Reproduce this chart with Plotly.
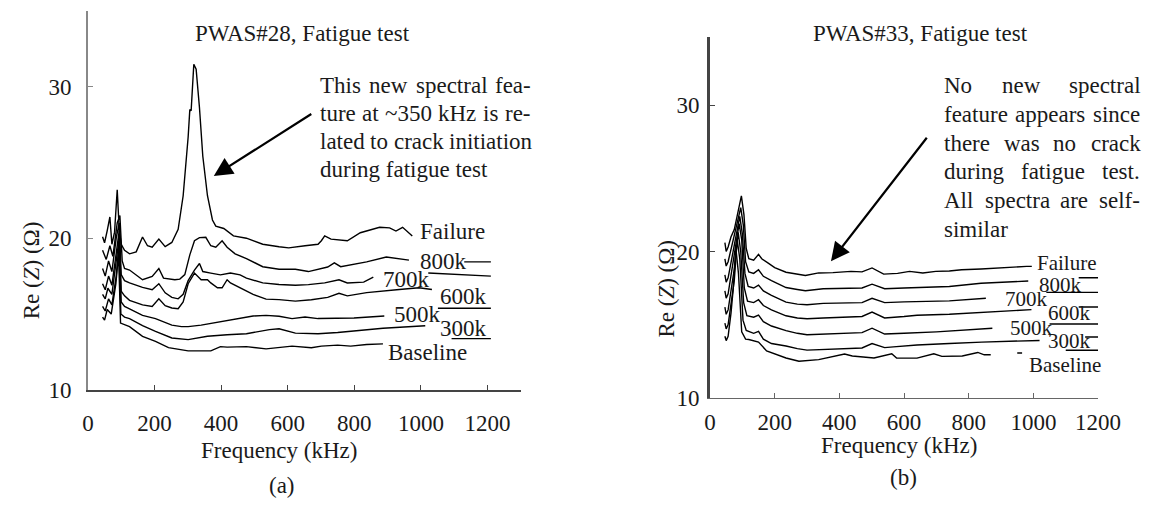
import plotly.graph_objects as go

W, H = 1164, 512
FONT = "Liberation Serif, Times New Roman, serif"
FS = 23
INK = "#1a1a1a"


def px(x):
    return x / W


def py(y):
    return 1 - y / H


# ---------------- data: panel (a) PWAS#28 ----------------
A_FAIL_F = [44, 50, 58, 66, 72, 80, 88, 94, 100, 110, 125, 145, 164, 179, 193, 213, 232, 252, 271, 286,
            301, 306, 310, 318, 325, 335, 345, 359, 374, 384, 408, 437, 476, 525, 574, 603, 652, 691,
            701, 711, 730, 779, 818, 837, 876, 906, 925, 945, 974]
A_FAIL_V = [20.1, 19.7, 20.5, 21.4, 19.6, 20.4, 23.2, 20.6, 19.6, 19.2, 18.97, 19.1, 20.08, 19.5, 19.4,
            19.94, 19.44, 19.72, 20.58, 22.8, 26.67, 28.48, 28.4, 31.47, 31.15, 28.6, 25.4, 22.8, 21.2,
            20.8, 20.64, 20.15, 20.0, 19.6, 19.44, 19.36, 19.5, 19.6, 19.83, 20.15, 19.94, 19.83, 20.36,
            20.47, 20.72, 20.68, 20.47, 20.72, 20.15]

A_800_F = [44, 55, 66, 75, 88, 96, 103, 110, 125, 164, 193, 213, 227, 261, 276, 291, 306, 320, 335, 354,
           369, 384, 403, 418, 442, 476, 525, 574, 623, 662, 720, 740, 759, 837, 896, 964, None, 1130, 1210]
A_800_V = [19.2, 18.6, 19.5, 18.8, 21.0, 21.5, 18.5, 18.0, 17.9, 17.26, 17.48, 18.0, 17.37, 17.26, 17.3,
           17.6, 18.9, 19.83, 20.04, 20.06, 19.5, 19.4, 19.83, 19.4, 18.97, 18.65, 18.12, 17.95, 17.95,
           17.8, 18.1, 18.37, 18.12, 18.44, 18.76, 18.55, None, 18.44, 18.44]

A_700_F = [44, 52, 62, 72, 85, 94, 100, 110, 125, 164, 193, 213, 232, 252, 271, 286, 301, 320, 335, 345,
           369, 398, 428, 457, 476, 525, 574, 623, 662, 711, 754, 779, 828, 857, None, 1022, 1110, 1210]
A_700_V = [18.0, 17.5, 18.5, 17.8, 20.0, 21.0, 17.6, 17.2, 17.05, 16.76, 16.6, 17.0, 16.4, 16.1, 16.0,
           16.3, 17.2, 17.9, 18.33, 17.8, 17.7, 17.58, 17.7, 17.58, 17.37, 17.05, 16.95, 16.9, 16.94,
           17.05, 17.26, 17.05, 17.1, 17.44, None, 17.7, 17.6, 17.5]

A_600_F = [44, 52, 62, 72, 85, 94, 100, 110, 125, 164, 193, 213, 232, 252, 271, 286, 301, 320, 340, 359,
           369, 389, 403, 418, 428, 457, 496, 535, 574, 623, 671, 720, 754, 779, 837, 935, 994, 1033]
A_600_V = [17.0, 16.6, 17.5, 16.9, 19.0, 20.5, 16.5, 16.2, 15.9, 15.6, 15.5, 16.0, 15.55, 15.4, 15.35,
           15.8, 17.0, 17.7, 17.26, 17.26, 17.05, 16.73, 16.73, 17.26, 17.05, 16.73, 16.3, 15.98, 15.95,
           15.85, 15.94, 16.1, 16.37, 16.2, 16.41, 16.62, 16.73, 16.62]

A_500_F = [44, 52, 60, 72, 85, 94, 100, 110, 125, 164, 203, 252, 281, 301, 340, 398, 457, 496, 535, 574,
           613, 652, 691, 750, 799, 890, None, 1051, 1210]
A_500_V = [16.3, 16.0, 16.7, 16.3, 18.5, 20.0, 15.8, 15.5, 15.34, 14.91, 14.7, 14.27, 14.17, 14.17, 14.27,
           14.49, 14.7, 14.87, 14.91, 14.85, 14.7, 14.8, 14.7, 14.72, 14.74, 14.87, None, 15.38, 15.38]

A_300_F = [44, 52, 62, 72, 85, 93, 99, 110, 125, 164, 203, 252, 301, 359, 418, 476, 545, 574, 623, 691,
           750, 799, 886, 1013, None, 1092, 1210]
A_300_V = [15.5, 15.2, 16.0, 15.6, 17.5, 19.5, 15.0, 14.8, 14.7, 14.23, 13.85, 13.42, 13.31, 13.53, 13.63,
           13.7, 13.97, 14.03, 13.74, 13.7, 13.78, 13.87, 14.06, 14.23, None, 13.38, 13.38]

A_BASE_F = [44, 50, 58, 70, 84, 92, 98, 108, 125, 164, 203, 242, 301, 369, 398, 418, 476, 535, 574, 613,
            671, 701, 750, 789, 837, 886]
A_BASE_V = [14.8, 14.6, 15.3, 15.0, 17.0, 19.0, 14.4, 14.3, 14.17, 13.53, 13.2, 12.78, 12.57, 12.57, 12.85,
            12.82, 12.85, 12.7, 12.78, 12.88, 12.78, 12.88, 12.95, 12.88, 12.99, 13.03]

# ---------------- data: panel (b) PWAS#33 ----------------
B_FAIL_F = [46, 50, 56, 65, 75, 85, 97, 105, 112, 120, 135, 150, 160, 180, 200, 235, 260, 295, 336, 380,
            436, 470, 501, 537, 580, 617, 658, 698, 740, 778, 838, 900, 979, 995]
B_FAIL_V = [20.6, 20.0, 20.3, 21.0, 21.5, 22.5, 23.8, 22.5, 20.2, 19.5, 19.4, 19.8, 19.5, 19.2, 18.9,
            18.58, 18.5, 18.36, 18.53, 18.55, 18.64, 18.6, 18.87, 18.45, 18.5, 18.64, 18.53, 18.64,
            18.66, 18.75, 18.8, 18.9, 18.98, 18.98]

B_800_F = [46, 50, 56, 65, 75, 85, 95, 103, 110, 120, 135, 150, 165, 190, 235, 270, 295, 350, 420, 470,
           501, 540, 600, 650, 740, 838, 984, None, 1140, 1200]
B_800_V = [19.5, 19.0, 19.3, 20.2, 21.0, 22.2, 23.0, 21.8, 19.3, 18.6, 18.5, 18.75, 18.3, 18.0, 17.53,
           17.4, 17.31, 17.45, 17.5, 17.5, 17.76, 17.45, 17.5, 17.55, 17.6, 17.82, 17.98, None, 18.2, 18.2]

B_700_F = [46, 50, 56, 65, 75, 85, 92, 100, 108, 118, 135, 150, 165, 190, 235, 270, 300, 350, 420, 470,
           501, 540, 600, 660, 740, 853, None, 1040, 1200]
B_700_V = [18.4, 17.9, 18.2, 19.3, 20.3, 21.6, 22.4, 21.2, 18.5, 17.6, 17.5, 17.7, 17.3, 17.0, 16.53,
           16.4, 16.35, 16.45, 16.5, 16.5, 16.8, 16.5, 16.55, 16.6, 16.62, 16.8, None, 17.2, 17.2]

B_600_F = [46, 50, 56, 65, 75, 85, 90, 98, 106, 116, 135, 150, 165, 190, 235, 270, 300, 350, 420, 470,
           501, 540, 600, 640, 740, 838, 994, None, 1140, 1200]
B_600_V = [17.3, 16.8, 17.1, 18.4, 19.6, 21.0, 21.9, 20.8, 17.5, 16.6, 16.5, 16.7, 16.3, 16.0, 15.6,
           15.45, 15.4, 15.45, 15.5, 15.55, 15.85, 15.45, 15.55, 15.64, 15.7, 15.82, 16.02, None, 16.2, 16.2]

B_500_F = [46, 50, 56, 65, 75, 87, 95, 104, 114, 135, 150, 165, 190, 235, 270, 300, 350, 420, 470, 501,
           540, 600, 700, 873, None, 1050, 1200]
B_500_V = [16.2, 15.7, 16.0, 17.4, 18.8, 21.3, 20.0, 16.5, 15.6, 15.5, 15.64, 15.2, 14.9, 14.58, 14.4,
           14.3, 14.35, 14.4, 14.45, 14.75, 14.35, 14.4, 14.5, 14.75, None, 15.04, 15.04]

B_300_F = [46, 50, 56, 65, 75, 84, 92, 102, 112, 135, 150, 165, 190, 235, 270, 300, 350, 420, 470, 501,
           540, 567, 640, 740, 840, 1019, None, 1160, 1200]
B_300_V = [15.1, 14.7, 15.0, 16.5, 18.0, 20.8, 19.5, 15.3, 14.6, 14.4, 14.53, 14.0, 13.7, 13.53, 13.35,
           13.25, 13.3, 13.35, 13.4, 13.7, 13.42, 13.47, 13.6, 13.7, 13.8, 13.91, None, 14.15, 14.15]

B_BASE_F = [46, 50, 56, 65, 72, 80, 88, 98, 110, 120, 150, 175, 235, 275, 336, 416, 440, 507, 562, 577,
            640, 692, 717, 780, 828, 848, 868, None, 950, 965, None, 1100, 1200]
B_BASE_V = [14.2, 13.9, 14.2, 15.8, 17.5, 20.2, 18.5, 14.5, 14.0, 13.98, 13.8, 13.2, 12.71, 12.49, 12.6,
            12.98, 12.85, 12.71, 13.0, 12.71, 12.7, 13.0, 12.82, 12.85, 13.09, 12.93, 12.93, None, 13.05,
            13.05, None, 13.24, 13.24]

SERIES_NAMES = ["Failure", "800k", "700k", "600k", "500k", "300k", "Baseline"]
X_TICKS = [0, 200, 400, 600, 800, 1000, 1200]
Y_TICKS = [10, 20, 30]

A_SERIES = [(A_FAIL_F, A_FAIL_V), (A_800_F, A_800_V), (A_700_F, A_700_V), (A_600_F, A_600_V),
            (A_500_F, A_500_V), (A_300_F, A_300_V), (A_BASE_F, A_BASE_V)]
B_SERIES = [(B_FAIL_F, B_FAIL_V), (B_800_F, B_800_V), (B_700_F, B_700_V), (B_600_F, B_600_V),
            (B_500_F, B_500_V), (B_300_F, B_300_V), (B_BASE_F, B_BASE_V)]

# label placement (pixels, left edge / vertical centre)
A_LABEL_POS = [(423, 238), (423, 268), (385, 287), (443, 304), (396, 323), (443, 337), (390, 362)]
B_LABEL_POS = [(1055, 270), (1057, 292), (1022, 307), (1067, 321), (1028, 337), (1067, 350), (1047, 374)]
B_LABEL_FS = 21

fig = go.Figure()
for name, (f, v) in zip(SERIES_NAMES, A_SERIES):
    fig.add_trace(go.Scatter(x=f, y=v, mode="lines", name=name, xaxis="x", yaxis="y",
                             line=dict(color="black", width=1.4), connectgaps=False))
for name, (f, v) in zip(SERIES_NAMES, B_SERIES):
    fig.add_trace(go.Scatter(x=f, y=v, mode="lines", name=name, xaxis="x2", yaxis="y2",
                             line=dict(color="black", width=1.4), connectgaps=False))

# Times-like advance widths (per 1000 em)
CW = {c: 500 for c in "bdghknopquvxy0123456789"}
CW.update({"a": 444, "c": 444, "e": 444, "z": 444, "f": 333, "r": 333, "i": 278, "j": 278, "l": 278,
           "t": 278, "s": 389, "m": 778, "w": 722, "A": 722, "N": 722, "H": 722, "T": 611, "-": 333,
           ".": 250, ",": 250, "~": 541, " ": 250})


def tw(s):
    return sum(CW.get(c, 500) for c in s) / 1000.0 * FS


annos = []


def text(x, y, s, anchor="left", size=FS, angle=0):
    annos.append(dict(x=px(x), y=py(y), xref="paper", yref="paper", text=s, showarrow=False,
                      xanchor=anchor, yanchor="middle", textangle=angle,
                      font=dict(family=FONT, size=size, color=INK)))


def justified(x0, x1, y, line):
    words = line.split(" ")
    total = sum(tw(w) for w in words)
    gap = (x1 - x0 - total) / (len(words) - 1)
    x = x0
    for w in words:
        text(x, y, w)
        x += tw(w) + gap


# titles
text(192, 34, "PWAS#28, Fatigue test")
text(826, 34, "PWAS#33, Fatigue test")
# axis titles
text(280, 462, "Frequency (kHz)", anchor="center")
text(916, 457, "Frequency (kHz)", anchor="center")
text(283, 498, "(a)", anchor="center")
text(920, 490, "(b)", anchor="center")
text(27, 277, "Re (<i>Z</i>) (Ω)", anchor="center", angle=-90)
text(677, 296, "Re (<i>Z</i>) (Ω)", anchor="center", angle=-90)

# curve labels
for name, (x, y) in zip(SERIES_NAMES, A_LABEL_POS):
    text(x, y, name)
for name, (x, y) in zip(SERIES_NAMES, B_LABEL_POS):
    text(x, y, name, size=B_LABEL_FS)

# explanatory notes
A_NOTE = ["This new spectral fea-", "ture at ~350 kHz is re-", "lated to crack initiation",
          "during fatigue test"]
for i, ln in enumerate(A_NOTE):
    y = 88 + i * 28.5
    if i < len(A_NOTE) - 1:
        justified(320, 535, y, ln)
    else:
        text(320, y, ln)

B_NOTE = ["No new spectral", "feature appears since", "there was no crack", "during fatigue test.",
          "All spectra are self-", "similar"]
for i, ln in enumerate(B_NOTE):
    y = 88 + i * 29.4
    if i < len(B_NOTE) - 1:
        justified(960, 1160, y, ln)
    else:
        text(960, y, ln)

# arrows
annos.append(dict(x=378, y=24.1, xref="x", yref="y", ax=99, ay=-63, text="", showarrow=True,
                  arrowhead=2, arrowsize=1.7, arrowwidth=2.2, arrowcolor="black", standoff=0))
annos.append(dict(x=374, y=19.33, xref="x2", yref="y2", ax=97, ay=-125, text="", showarrow=True,
                  arrowhead=2, arrowsize=1.7, arrowwidth=2.2, arrowcolor="black", standoff=0))

tickfont = dict(family=FONT, size=FS, color=INK)
common_x = dict(showgrid=False, zeroline=False, showline=True, ticks="inside", ticklen=5,
                tickvals=X_TICKS, tickfont=tickfont)
common_y = dict(showgrid=False, zeroline=False, showline=True, ticks="inside", ticklen=5,
                tickvals=Y_TICKS, tickfont=tickfont)

fig.update_layout(
    width=W, height=H, margin=dict(l=0, r=0, t=0, b=0), showlegend=False,
    paper_bgcolor="white", plot_bgcolor="white",
    xaxis=dict(domain=[px(84), px(528)], range=[0, 1300], anchor="y", linecolor="#444", linewidth=2,
               tickcolor="#444", ticklabelstandoff=12, **common_x),
    yaxis=dict(domain=[py(400), py(11)], range=[10, 35], anchor="x", linecolor="#888", linewidth=1.5,
               tickcolor="#888", ticklabelstandoff=10, **common_y),
    xaxis2=dict(domain=[px(722), px(1120)], range=[0, 1200], anchor="y2", linecolor="#666", linewidth=1.2,
                tickcolor="#666", ticklabelstandoff=4, **common_x),
    yaxis2=dict(domain=[py(408), py(38)], range=[10, 10 + 370 / 15.0], anchor="x2", linecolor="#444",
                linewidth=3, tickcolor="#444", ticklabelstandoff=3, **common_y),
    annotations=annos,
)

fig.write_html("out.html")
